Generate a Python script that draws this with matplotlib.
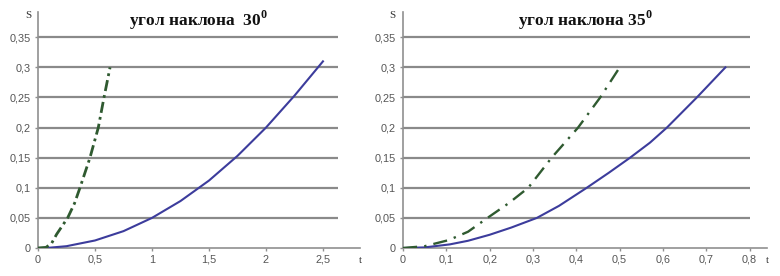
import matplotlib.pyplot as plt
import numpy as np

plt.rcParams['font.family'] = ['Liberation Sans', 'DejaVu Sans']
plt.rcParams['mathtext.fontset'] = 'custom'
plt.rcParams['mathtext.rm'] = 'Liberation Serif:bold'
plt.rcParams['mathtext.bf'] = 'Liberation Serif:bold'

# --- data ---
# left panel, 30 deg
t30_blue = [0, 0.1, 0.25, 0.5, 0.75, 1.0, 1.25, 1.5, 1.75, 2.0, 2.25, 2.5]
s30_blue = [0, 0.0005, 0.003, 0.0125, 0.028, 0.05, 0.078, 0.112, 0.153, 0.2, 0.253, 0.31]
t30_green = [0, 0.07, 0.12, 0.164, 0.26, 0.32, 0.368, 0.456, 0.529, 0.579, 0.632]
s30_green = [0, 0.001, 0.008, 0.023, 0.05, 0.074, 0.1, 0.15, 0.2, 0.25, 0.3]

# right panel, 35 deg
t35_blue = [0, 0.05, 0.108, 0.15, 0.2, 0.25, 0.309, 0.36, 0.424, 0.475, 0.524, 0.57, 0.609, 0.678, 0.744]
s35_blue = [0, 0.001, 0.006, 0.012, 0.022, 0.034, 0.05, 0.07, 0.1, 0.125, 0.15, 0.175, 0.2, 0.25, 0.3]
t35_green = [0, 0.05, 0.105, 0.15, 0.195, 0.245, 0.289, 0.343, 0.404, 0.455, 0.5]
s35_green = [0, 0.003, 0.013, 0.027, 0.05, 0.075, 0.1, 0.15, 0.2, 0.25, 0.3]

yticks = [0, 0.05, 0.1, 0.15, 0.2, 0.25, 0.3, 0.35]
ylabels = ['0', '0,05', '0,1', '0,15', '0,2', '0,25', '0,3', '0,35']
xticks30 = [0, 0.5, 1, 1.5, 2, 2.5]
xlabels30 = ['0', '0,5', '1', '1,5', '2', '2,5']
xticks35 = [0, 0.1, 0.2, 0.3, 0.4, 0.5, 0.6, 0.7, 0.8]
xlabels35 = ['0', '0,1', '0,2', '0,3', '0,4', '0,5', '0,6', '0,7', '0,8']

blue = '#3c3c9c'
green = '#2f5a30'
grid_c = '#8a8a8a'
txt_c = '#555555'

fig = plt.figure(figsize=(7.8, 2.76), dpi=100)
W, H = 780, 276


def make_ax(x0, x1, y_top, xmax, grid_end, xt, xl, title):
    ax = fig.add_axes([x0 / W, (H - 248) / H, (x1 - x0) / W, (248 - y_top) / H])
    ax.set_xlim(0, xmax)
    ax.set_ylim(0, 0.392)
    ax.hlines(yticks[1:], 0, grid_end, colors=grid_c, lw=1.6, zorder=1)
    for side in ['top', 'right']:
        ax.spines[side].set_visible(False)
    for side in ['left', 'bottom']:
        ax.spines[side].set_color('#909090')
        ax.spines[side].set_linewidth(1.2)
    ax.set_yticks(yticks)
    ax.set_yticklabels(ylabels)
    ax.set_xticks(xt)
    ax.set_xticklabels(xl)
    ax.tick_params(axis='both', colors='#909090', labelcolor=txt_c,
                   labelsize=7.8, length=2.5, width=1, pad=2.5)
    ax.text(0.5, 0.966, title, transform=ax.transAxes, ha='center', va='center',
            fontsize=12.5, fontweight='bold', family='Liberation Serif', color='#111111')
    ax.text(-0.03, 0.985, 'S', transform=ax.transAxes, ha='center', va='center',
            fontsize=8, family='Liberation Serif', color='#333333')
    ax.text(1.0, -0.035, 't', transform=ax.transAxes, ha='center', va='top',
            fontsize=8, family='Liberation Serif', color='#333333')
    return ax


ax1 = make_ax(38, 360, 12, 2.825, 2.63, xticks30, xlabels30, r'угол наклона  30$^{0}$')
ax1.plot(t30_blue, s30_blue, color=blue, lw=1.5, zorder=3)
ax1.plot(t30_green, s30_green, color=green, lw=2, linestyle=(0, (4, 1.5, 1, 1.5)), zorder=3)

ax2 = make_ax(403, 767, 12, 0.84, 0.8, xticks35, xlabels35, r'угол наклона 35$^{0}$')
ax2.plot(t35_blue, s35_blue, color=blue, lw=1.5, zorder=3)
ax2.plot(t35_green, s35_green, color=green, lw=1.7, linestyle=(0, (6, 3, 1, 3)), zorder=3)

fig.savefig('out.png', dpi=100)
